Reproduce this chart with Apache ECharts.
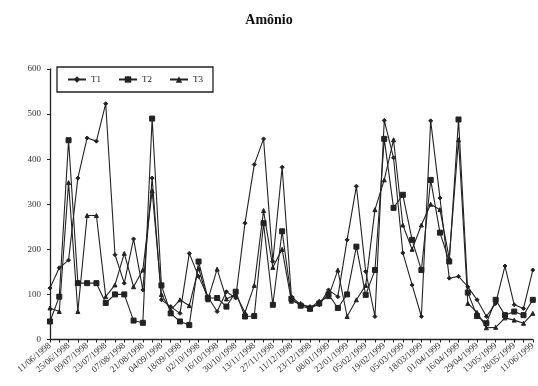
<!DOCTYPE html>
<html><head><meta charset="utf-8">
<script src="https://cdn.jsdelivr.net/npm/echarts@6/dist/echarts.min.js"></script>
<style>html,body{margin:0;padding:0;background:#fff}#c{width:538px;height:386px}</style>
</head><body><div id="c"></div>
<script>
const dates = ["11/06/1998","18/06/1998","25/06/1998","02/07/1998","09/07/1998","16/07/1998","23/07/1998","30/07/1998","07/08/1998","14/08/1998","21/08/1998","28/08/1998","04/09/1998","11/09/1998","18/09/1998","25/09/1998","02/10/1998","09/10/1998","16/10/1998","23/10/1998","30/10/1998","06/11/1998","13/11/1998","20/11/1998","27/11/1998","04/12/1998","11/12/1998","18/12/1998","23/12/1998","31/12/1998","08/01/1999","15/01/1999","22/01/1999","29/01/1999","05/02/1999","12/02/1999","19/02/1999","26/02/1999","05/03/1999","12/03/1999","18/03/1999","25/03/1999","01/04/1999","09/04/1999","16/04/1999","23/04/1999","29/04/1999","06/05/1999","13/05/1999","20/05/1999","28/05/1999","04/06/1999","11/06/1999"];
const t1 = [114,159,176,358,447,440,523,188,125,223,110,358,88,73,58,191,140,95,62,106,92,258,388,445,173,382,95,77,73,77,110,95,221,340,151,51,486,403,192,121,51,485,314,136,140,117,88,51,80,163,77,69,154];
const t2 = [40,95,442,125,125,125,81,100,100,42,37,490,120,58,40,32,173,92,92,73,106,51,52,258,77,240,90,75,68,80,100,70,100,206,99,154,445,292,321,221,154,354,237,173,488,104,52,36,88,54,62,54,88];
const t3 = [70,62,348,62,275,275,95,121,191,117,154,330,100,65,88,75,158,88,156,90,100,60,120,286,160,200,85,80,70,85,95,154,51,88,120,288,354,443,254,200,254,300,288,180,443,80,60,26,27,48,43,36,58];
const yTicks = [0,100,200,300,400,500,600];

const ink = '#222';
const serif = '"Liberation Serif", "DejaVu Serif", serif';
function mk(name, data, symbol, size) {
  return {name, type:'line', data, symbol, symbolSize:size, showAllSymbol:true,
    lineStyle:{color:ink,width:1.1}, itemStyle:{color:ink,borderColor:ink}, emphasis:{disabled:true}, animation:false};
}
const chart = echarts.init(document.getElementById('c'), null, {renderer:'canvas'});
chart.setOption({
  animation:false,
  backgroundColor:'#fff',
  title:{text:'Amônio', left:'center', top:8, textStyle:{fontFamily:serif, fontWeight:'bold', fontSize:14, color:'#111'}},
  legend:{left:57, top:67, orient:'horizontal', itemWidth:18, itemHeight:8, itemGap:17,
    padding:[8,10], borderColor:ink, borderWidth:1.3,
    textStyle:{fontFamily:serif, fontSize:9, color:ink}, data:['T1','T2','T3']},
  grid:{left:50, right:5, top:69, bottom:46.5, containLabel:false},
  xAxis:{type:'category', data:dates, boundaryGap:false,
    axisLine:{lineStyle:{color:ink, width:1.3}},
    axisTick:{show:true, interval:0, length:3, lineStyle:{color:ink}},
    axisLabel:{interval:1, rotate:40, fontFamily:serif, fontSize:9, color:'#333', margin:5}},
  yAxis:{type:'value', min:0, max:600, interval:100,
    axisLine:{show:true, lineStyle:{color:ink, width:1.3}},
    axisTick:{show:true, length:3, lineStyle:{color:ink}},
    splitLine:{show:false},
    axisLabel:{fontFamily:serif, fontSize:9, color:'#333', margin:9,
      formatter:v=> yTicks.includes(v) ? String(v) : ''}},
  series:[mk('T1',t1,'diamond',4), mk('T2',t2,'rect',5), mk('T3',t3,'triangle',4)]
});
</script></body></html>
